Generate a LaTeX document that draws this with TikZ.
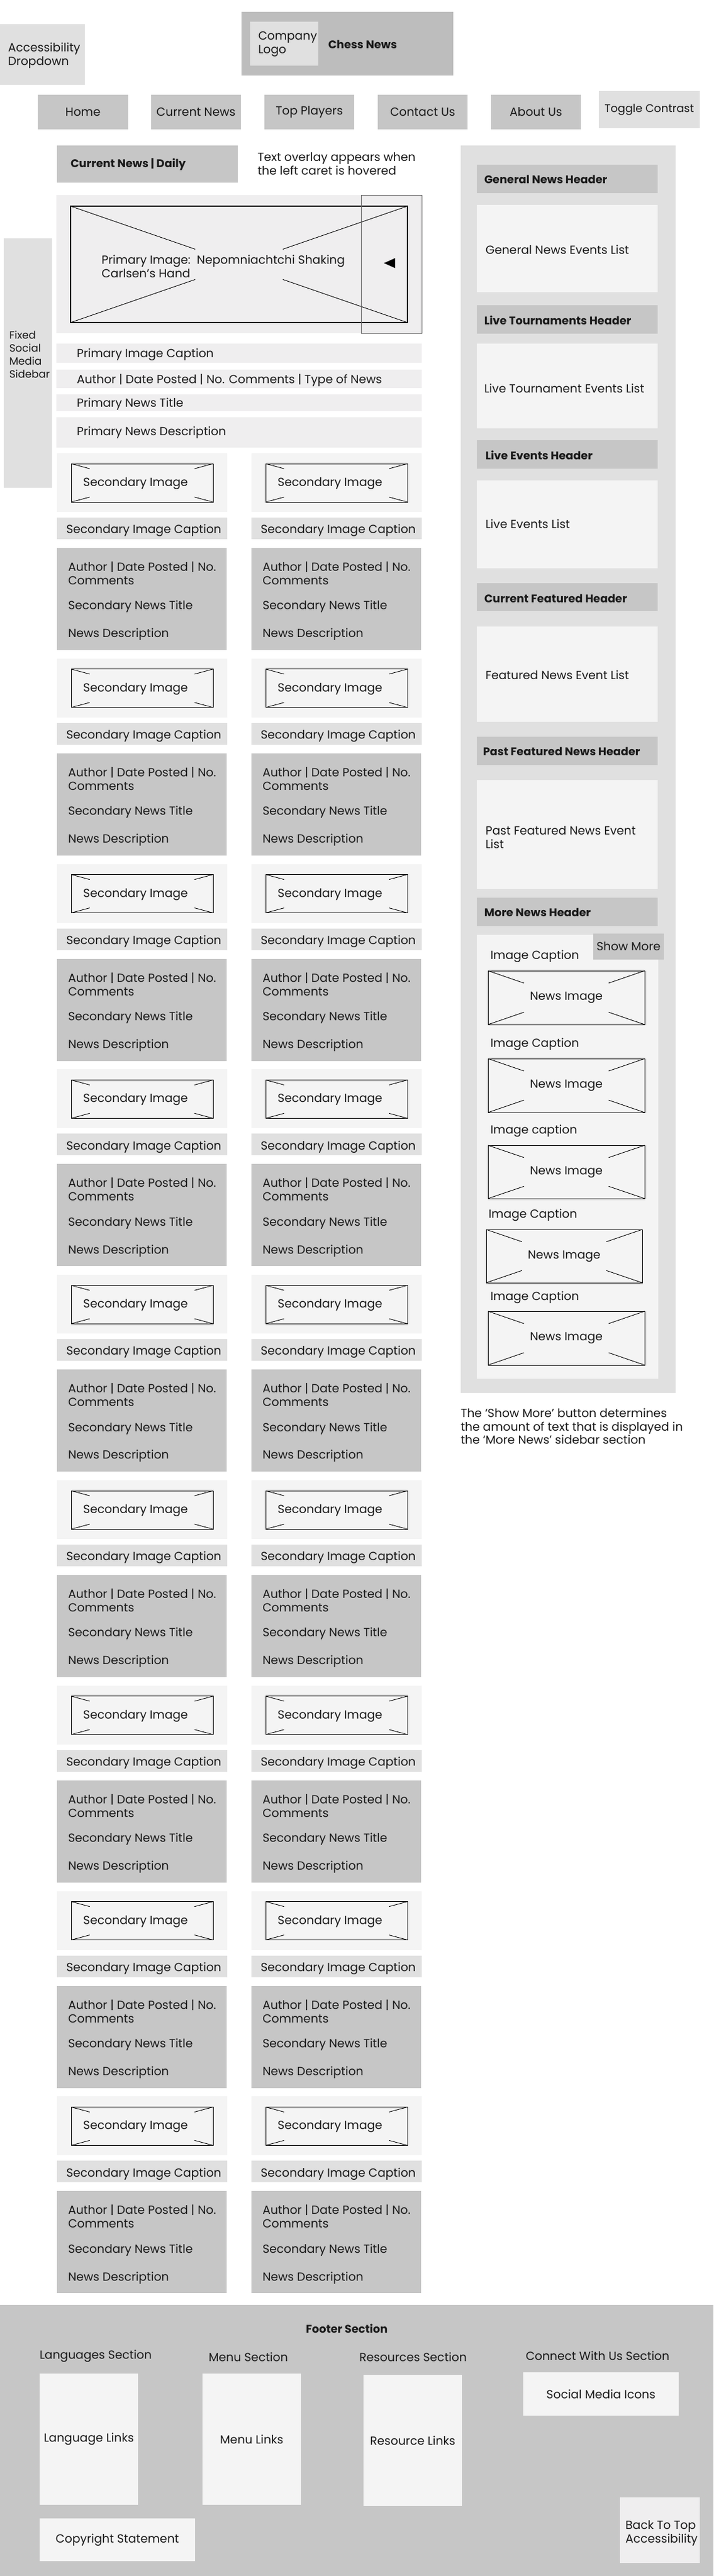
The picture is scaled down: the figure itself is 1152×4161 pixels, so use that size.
\documentclass[tikz,border=0pt]{standalone}
\usepackage{fontspec}
\setmainfont{Poppins}
\usetikzlibrary{calc}
\definecolor{cA}{HTML}{E0E0E0}
\definecolor{cB}{HTML}{C6C6C6}
\definecolor{cC}{HTML}{F4F4F4}
\definecolor{cD}{HTML}{EFEEEF}
\definecolor{cH}{HTML}{BDBDBD}
\definecolor{ink}{HTML}{1A1A1A}
% name, x1, y1, x2, y2, style, text
\newcommand{\rbox}[7]{%
  \node[#6, anchor=north west, inner sep=0pt, outer sep=0pt,
        minimum width={(#4-(#2))*1pt}, minimum height={(#5-(#3))*1pt}] (#1) at (#2,#3) {#7};}
% X marks with gap: node name, fraction
\newcommand{\xmarks}[2]{%
  \draw[xline] (#1.north west) -- ($(#1.north west)!#2!(#1.south east)$);
  \draw[xline] (#1.south east) -- ($(#1.south east)!#2!(#1.north west)$);
  \draw[xline] (#1.north east) -- ($(#1.north east)!#2!(#1.south west)$);
  \draw[xline] (#1.south west) -- ($(#1.south west)!#2!(#1.north east)$);}
\tikzset{
  t/.style={inner sep=0pt, outer sep=0pt, text=ink, font=\fontsize{19}{22}\selectfont, align=left},
  tb/.style={t, font=\bfseries\fontsize{18}{22}\selectfont},
  tc/.style={t, align=center},
  fillA/.style={fill=cA},
  fillB/.style={fill=cB},
  fillC/.style={fill=cC},
  fillD/.style={fill=cD},
  fillH/.style={fill=cH},
  imgbox/.style={draw=black, fill=cD, line width=1.3pt},
  simgbox/.style={draw=black, fill=cC, line width=1pt},
  xline/.style={draw=black, line width=0.9pt},
}
\begin{document}
\begin{tikzpicture}[x=1pt,y=-1pt]
\useasboundingbox[fill=white] (0,0) rectangle (1152,4161);

% ---------- header ----------
\rbox{acc}{0}{39}{137}{137}{fillA}{}
\node[t, anchor=west] (acct) at (13,90) {Accessibility\\Dropdown};
\rbox{hdr}{390}{19}{732}{122}{fillH}{}
\rbox{logo}{404}{35}{514}{106}{fillA}{}
\node[t, anchor=west] (logot) at (417,71) {Company\\Logo};
\node[tb, anchor=west] (title) at (530,72) {Chess News};

\rbox{navhome}{61}{153}{207}{209}{fillB,tc}{Home}
\rbox{navcur}{244}{153}{389}{209}{fillB,tc}{Current News}
\rbox{navtop}{427}{153}{572}{209}{fillB,tc}{Top Players}
\rbox{navcon}{610}{153}{755}{209}{fillB,tc}{Contact Us}
\rbox{navabt}{793}{153}{938}{209}{fillB,tc}{About Us}
\rbox{tog}{967}{147}{1130}{207}{fillA,tc,font=\fontsize{18}{22}\selectfont}{Toggle Contrast}

% ---------- current news heading ----------
\rbox{cnd}{92}{235}{384}{295}{fillB}{}
\node[tb, anchor=west] (cndt) at (114,266) {Current News | Daily};
\node[t, anchor=west] (note1) at (416,265) {Text overlay appears when\\the left caret is hovered};

% ---------- primary image ----------
\rbox{prim}{91}{315}{681}{538}{fillD}{}
\rbox{pimg}{114}{333}{658}{521}{imgbox}{}
\xmarks{pimg}{0.37}
\rbox{caret}{583}{315}{681}{538}{draw=black!60, line width=0.8pt}{}
\fill[black] (620,425) -- (638,417) -- (638,433) -- cycle;
\node[t, anchor=west] (pimgt) at (164,430) {Primary Image:\ \ Nepomniachtchi Shaking\\Carlsen’s Hand};

% ---------- fixed sidebar ----------
\rbox{fsb}{6}{385}{84}{788}{fillA}{}
\node[t, anchor=west, font=\fontsize{17}{21}\selectfont] (fsbt) at (15,573) {Fixed\\Social\\Media\\Sidebar};

% ---------- primary bars ----------
\rbox{pcap}{91}{555}{681}{586}{fillD}{}
\node[t, anchor=west] (pcapt) at (124,573) {Primary Image Caption};
\rbox{pauth}{91}{597}{681}{627}{fillD}{}
\node[t, anchor=west] (pautht) at (124,614) {Author | Date Posted | No. Comments | Type of News};
\rbox{ptitle}{91}{637}{681}{664}{fillD}{}
\node[t, anchor=west] (ptitlet) at (124,653) {Primary News Title};
\rbox{pdesc}{91}{674}{681}{723}{fillD}{}
\node[t, anchor=west] (pdesct) at (124,699) {Primary News Description};

% ---------- secondary grid ----------
\foreach \i in {0,...,8}{
  \pgfmathsetmacro\o{331.8*\i}
  \foreach \c/\dx in {L/0,R/314}{
    \rbox{sout\c\i}{92+\dx}{732+\o}{367+\dx}{827+\o}{fillC}{}
    \rbox{simg\c\i}{115+\dx}{749+\o}{344+\dx}{811+\o}{simgbox}{}
    \xmarks{simg\c\i}{0.13}
    \node[t, anchor=center] (simgt\c\i) at (219+\dx,781+\o) {Secondary Image};
    \rbox{scap\c\i}{92+\dx}{836+\o}{367+\dx}{871+\o}{fillA}{}
    \node[t, anchor=west] (scapt\c\i) at (107+\dx,857+\o) {Secondary Image Caption};
    \rbox{sinf\c\i}{92+\dx}{885+\o}{366+\dx}{1050+\o}{fillB}{}
    \node[t, anchor=west] (sautht\c\i) at (110+\dx,926+\o) {Author | Date Posted | No.\\Comments};
    \node[t, anchor=west] (stitlet\c\i) at (110+\dx,980+\o) {Secondary News Title};
    \node[t, anchor=west] (sdesct\c\i) at (110+\dx,1025+\o) {News Description};
  }
}

% ---------- right sidebar ----------
\rbox{rsb}{744}{235}{1091}{2250}{fillA}{}
\rbox{h1}{770}{266}{1062}{312}{fillB}{}
\node[tb, anchor=west] (h1t) at (782,290) {General News Header};
\rbox{l1}{770}{331}{1062}{472}{fillC}{}
\node[t, anchor=west] (l1t) at (784,403) {General News Events List};
\rbox{h2}{770}{493}{1062}{539}{fillB}{}
\node[tb, anchor=west] (h2t) at (782,517) {Live Tournaments Header};
\rbox{l2}{770}{555}{1062}{692}{fillC}{}
\node[t, anchor=west] (l2t) at (782,627) {Live Tournament Events List};
\rbox{h3}{770}{711}{1062}{757}{fillB}{}
\node[tb, anchor=west] (h3t) at (784,735) {Live Events Header};
\rbox{l3}{770}{776}{1062}{918}{fillC}{}
\node[t, anchor=west] (l3t) at (784,846) {Live Events List};
\rbox{h4}{770}{942}{1062}{987}{fillB}{}
\node[tb, anchor=west] (h4t) at (782,967) {Current Featured Header};
\rbox{l4}{770}{1012}{1062}{1166}{fillC}{}
\node[t, anchor=west] (l4t) at (784,1090) {Featured News Event List};
\rbox{h5}{770}{1190}{1062}{1236}{fillB}{}
\node[tb, anchor=west] (h5t) at (780,1214) {Past Featured News Header};
\rbox{l5}{770}{1260}{1062}{1436}{fillC}{}
\node[t, anchor=west] (l5t) at (784,1353) {Past Featured News Event\\List};
\rbox{h6}{770}{1450}{1062}{1496}{fillB}{}
\node[tb, anchor=west] (h6t) at (782,1474) {More News Header};
\rbox{mn}{770}{1510}{1063}{2227}{fillC}{}
\rbox{showm}{958}{1508}{1072}{1550}{fillB,tc}{Show More}

\node[t, anchor=west] (cap1) at (792,1545) {Image Caption};
\rbox{ni1}{788}{1568}{1041}{1655}{simgbox}{}
\xmarks{ni1}{0.23}
\node[t, anchor=center] (ni1t) at (ni1.center) {News Image};
\node[t, anchor=west] (cap2) at (792,1687) {Image Caption};
\rbox{ni2}{788}{1710}{1041}{1797}{simgbox}{}
\xmarks{ni2}{0.23}
\node[t, anchor=center] (ni2t) at (ni2.center) {News Image};
\node[t, anchor=west] (cap3) at (792,1827) {Image caption};
\rbox{ni3}{788}{1850}{1041}{1936}{simgbox}{}
\xmarks{ni3}{0.23}
\node[t, anchor=center] (ni3t) at (ni3.center) {News Image};
\node[t, anchor=west] (cap4) at (789,1963) {Image Caption};
\rbox{ni4}{785}{1986}{1037}{2072}{simgbox}{}
\xmarks{ni4}{0.23}
\node[t, anchor=center] (ni4t) at (ni4.center) {News Image};
\node[t, anchor=west] (cap5) at (792,2096) {Image Caption};
\rbox{ni5}{788}{2118}{1041}{2205}{simgbox}{}
\xmarks{ni5}{0.23}
\node[t, anchor=center] (ni5t) at (ni5.center) {News Image};

\node[t, anchor=west, font=\fontsize{19}{21.5}\selectfont] (smnote) at (744,2304)
  {The ‘Show More’ button determines\\the amount of text that is displayed in\\the ‘More News’ sidebar section};

% ---------- footer ----------
\rbox{foot}{0}{3723}{1152}{4161}{fillB}{}
\node[tb, anchor=center] (foott) at (560,3761) {Footer Section};
\node[t, anchor=west] (langh) at (64,3806) {Languages Section};
\rbox{lang}{64}{3834}{223}{4046}{fillC,tc}{Language Links}
\node[t, anchor=center] (menuh) at (401,3807) {Menu Section};
\rbox{menu}{327}{3834}{486}{4046}{fillC,tc}{Menu Links}
\node[t, anchor=center] (resh) at (667,3807) {Resources Section};
\rbox{res}{587}{3836}{746}{4048}{fillC,tc}{Resource Links}
\node[t, anchor=center] (conh) at (965,3805) {Connect With Us Section};
\rbox{soc}{845}{3832}{1096}{3902}{fillC,tc}{Social Media Icons}
\rbox{copy}{64}{4068}{315}{4137}{fillC,tc}{Copyright Statement}
\rbox{btt}{1001}{4034}{1130}{4140}{fillD}{}
\node[t, anchor=west] (bttt) at (1010,4092) {Back To Top\\Accessibility};
\end{tikzpicture}
\end{document}
